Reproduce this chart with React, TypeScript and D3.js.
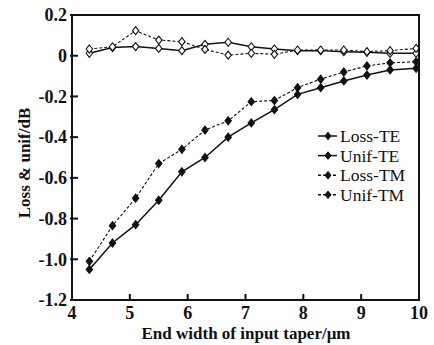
import React from 'react';
import * as d3 from 'd3';

// end width of input taper (um)
const widths = [4.3, 4.7, 5.1, 5.5, 5.9, 6.3, 6.7, 7.1, 7.5, 7.9, 8.3, 8.7, 9.1, 9.5, 9.95];

const lossTE = [-1.05, -0.92, -0.83, -0.71, -0.57, -0.5, -0.4, -0.33, -0.265, -0.19, -0.157, -0.124, -0.095, -0.07, -0.062];
const unifTE = [0.012, 0.04, 0.045, 0.036, 0.025, 0.056, 0.066, 0.044, 0.033, 0.025, 0.025, 0.02, 0.017, 0.012, 0.012];
const lossTM = [-1.01, -0.835, -0.7, -0.53, -0.46, -0.365, -0.32, -0.226, -0.22, -0.157, -0.115, -0.08, -0.05, -0.035, -0.03];
const unifTM = [0.033, 0.044, 0.123, 0.077, 0.069, 0.031, 0.003, 0.012, 0.007, 0.028, 0.028, 0.028, 0.02, 0.025, 0.036];

const xTicks = [4, 5, 6, 7, 8, 9, 10];
const yTicks = [0.2, 0, -0.2, -0.4, -0.6, -0.8, -1.0, -1.2];

const seriesNames = ['Loss-TE', 'Unif-TE', 'Loss-TM', 'Unif-TM'];
const seriesValues = [lossTE, unifTE, lossTM, unifTM];
const seriesDashed = [false, false, true, true];
const seriesOpen = [false, true, false, true];

const font = '"Liberation Serif", "DejaVu Serif", serif';

const App = () => {
    const width = 434;
    const height = 345;
    const left = 72, right = 419, top = 15, bottom = 300;

    const x = d3.scaleLinear().domain([4, 10]).range([left, right]);
    const y = d3.scaleLinear().domain([-1.2, 0.2]).range([bottom, top]);

    const line = d3.line<number>()
        .x((d, i) => x(widths[i]))
        .y(d => y(d));

    const diamond = (cx, cy, r) =>
        `M${cx},${cy - r}L${cx + r * 0.8},${cy}L${cx},${cy + r}L${cx - r * 0.8},${cy}Z`;

    const fmt = (v) => (v === 0 ? '0' : v.toFixed(1));

    return (
        <svg width={width} height={height}
            style={{ position: 'absolute', left: 0, top: 0, background: '#fff' }}
            fontFamily={font}>
            {/* series */}
            {seriesValues.map((vals, s) => (
                <g key={seriesNames[s]}>
                    <path d={line(vals)} fill="none" stroke="#111"
                        strokeWidth={seriesDashed[s] ? 1.1 : 1.5}
                        strokeDasharray={seriesDashed[s] ? '3,2' : null} />
                    {vals.map((v, i) => (
                        <path key={i} d={diamond(x(widths[i]), y(v), 4)}
                            fill={seriesOpen[s] ? '#fff' : '#111'}
                            stroke="#111" strokeWidth={1.1} />
                    ))}
                </g>
            ))}

            {/* frame */}
            <rect x={left} y={top} width={right - left} height={bottom - top}
                fill="none" stroke="#111" strokeWidth={2} />

            {/* y ticks */}
            {yTicks.map(t => (
                <g key={t}>
                    <line x1={left - 2} x2={left + 6} y1={y(t)} y2={y(t)} stroke="#111" strokeWidth={2} />
                    <text x={left - 5} y={y(t)} dy="0.35em" textAnchor="end"
                        fontSize={18} fontWeight="bold" fill="#111">{fmt(t)}</text>
                </g>
            ))}

            {/* x ticks */}
            {xTicks.map(t => (
                <g key={t}>
                    <line x1={x(t)} x2={x(t)} y1={bottom} y2={bottom - 6} stroke="#111" strokeWidth={2} />
                    <text x={x(t)} y={bottom + 19} textAnchor="middle"
                        fontSize={18} fontWeight="bold" fill="#111">{t}</text>
                </g>
            ))}

            <text x={246} y={339} textAnchor="middle"
                fontSize={17} fontWeight="bold" fill="#111">End width of input taper/μm</text>
            <text transform={`translate(30,163) rotate(-90)`} textAnchor="middle"
                fontSize={17} fontWeight="bold" fill="#111">Loss &amp; unif/dB</text>

            {/* legend */}
            {seriesNames.map((name, s) => {
                const ly = 136 + s * 19.6;
                return (
                    <g key={name}>
                        <line x1={318} x2={337} y1={ly} y2={ly} stroke="#111"
                            strokeWidth={1.5} strokeDasharray={seriesDashed[s] ? '3,2' : null} />
                        <path d={diamond(328, ly, 3.8)} fill="#111" stroke="#111" strokeWidth={1} />
                        <text x={340} y={ly} dy="0.35em" fontSize={17.5} fill="#111">{name}</text>
                    </g>
                );
            })}
        </svg>
    );
};

export default App;
